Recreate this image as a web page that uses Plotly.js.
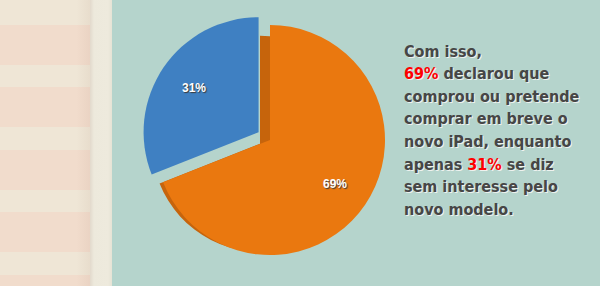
<!DOCTYPE html>
<html>
<head>
<meta charset="utf-8">
<script src="https://cdn.plot.ly/plotly-3.0.1.min.js"></script>
<style>
  html, body { margin: 0; padding: 0; }
  body { width: 600px; height: 286px; overflow: hidden; position: relative; background: #b5d4cc; }
  #stripes {
    position: absolute; left: 0; top: 0; width: 90px; height: 286px;
    background-image:
      linear-gradient(to right, rgba(0,0,0,0) 85%, rgba(150,110,90,0.08) 100%),
      linear-gradient(to bottom,
        #efe6d6 0px, #efe6d6 25px, #f1dccc 25px, #f1dccc 65px,
        #efe6d6 65px, #efe6d6 87px, #f1dccc 87px, #f1dccc 127px,
        #efe6d6 127px, #efe6d6 150px, #f1dccc 150px, #f1dccc 190px,
        #efe6d6 190px, #efe6d6 212px, #f1dccc 212px, #f1dccc 252px,
        #efe6d6 252px, #efe6d6 275px, #f1dccc 275px, #f1dccc 286px);
  }
  #band {
    position: absolute; left: 90px; top: 0; width: 22px; height: 286px;
    background: linear-gradient(to right, #e2d9cc 0px, #ede9dc 4px, #eeeadd 18px, #e6e3d5 22px);
  }
  #chart { position: absolute; left: 0; top: 0; width: 600px; height: 286px; }
</style>
</head>
<body>
<div id="stripes"></div>
<div id="band"></div>
<div id="chart"></div>
<script>
// Survey answers about the new iPad
const labels = ['Comprou ou pretende comprar', 'Sem interesse'];
const values = [69, 31];
const sliceColors = ['#ea780f', '#3f80c2'];
const sideColors = ['#c6640c', 'rgba(0,0,0,0)'];
const pulls = [0, 0.12];

// Caption lines; highlighted figures are wrapped in red spans
const captionLines = [
  'Com isso,',
  '<span style="color:#ff0000">69%</span> declarou que',
  'comprou ou pretende',
  'comprar em breve o',
  'novo iPad, enquanto',
  'apenas <span style="color:#ff0000">31%</span> se diz',
  'sem interesse pelo',
  'novo modelo.'
];

const W = 600, H = 286;
const maxPull = Math.max(...pulls);
const R = 115;                 // radius of the top face
const Rside = 108;             // radius of the darker side layer
const cx = 270, cy = 140;      // centre of the top face (px)
const sx = 260, sy = 143.7;    // centre of the side layer (px)

// Plotly sizes a pie as box / (2 + 2 * maxPull); build the domain from the wanted radius
function dom(x, y, r) {
  const half = r * (1 + maxPull);
  return {
    x: [(x - half) / W, (x + half) / W],
    y: [(H - y - half) / H, (H - y + half) / H]
  };
}

const common = {
  type: 'pie',
  labels: labels,
  values: values,
  pull: pulls,
  sort: false,
  direction: 'clockwise',
  rotation: 0,
  textinfo: 'none',
  hoverinfo: 'skip',
  showlegend: false
};

const side = Object.assign({}, common, {
  marker: { colors: sideColors, line: { width: 0 } },
  domain: dom(sx, sy, Rside)
});

const face = Object.assign({}, common, {
  marker: { colors: sliceColors, line: { width: 0 } },
  domain: dom(cx, cy, R)
});

// Percentage labels placed along each slice's middle angle
const total = values.reduce((a, b) => a + b, 0);
const labelAnnots = [];
let cum = 0;
values.forEach((v, i) => {
  const theta = 2 * Math.PI * (cum + v / 2) / total;
  cum += v;
  const dist = (pulls[i] + 0.68) * R;
  const px = cx + dist * Math.sin(theta);
  const py = cy - dist * Math.cos(theta);
  labelAnnots.push({
    xref: 'paper', yref: 'paper',
    x: px / W, y: 1 - py / H,
    xanchor: 'center', yanchor: 'middle',
    showarrow: false,
    text: Math.round(100 * v / total) + '%',
    font: { family: 'Liberation Sans, Arial, sans-serif', size: 12, weight: 'bold', color: '#ffffff', shadow: '1px 1px 1px #3a3a3a' }
  });
});

// Caption on the right, one annotation per line for even spacing
const lineStep = 22.6;
const captionAnnots = captionLines.map((t, i) => ({
  xref: 'paper', yref: 'paper',
  x: 402 / W, y: 1 - (51 + i * lineStep) / H,
  xanchor: 'left', yanchor: 'middle',
  align: 'left',
  showarrow: false,
  text: t,
  font: { family: 'DejaVu Sans Condensed, DejaVu Sans, sans-serif', stretch: 'condensed', size: 16, weight: 'bold', color: '#464646', shadow: '1px 1px 0px #eef2ef' }
}));

const layout = {
  width: W,
  height: H,
  margin: { l: 0, r: 0, t: 0, b: 0 },
  paper_bgcolor: 'rgba(0,0,0,0)',
  plot_bgcolor: 'rgba(0,0,0,0)',
  showlegend: false,
  annotations: labelAnnots.concat(captionAnnots)
};

Plotly.newPlot('chart', [side, face], layout, { displayModeBar: false, staticPlot: true });
</script>
</body>
</html>
